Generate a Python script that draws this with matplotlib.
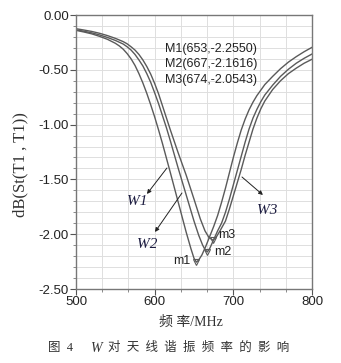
import matplotlib
matplotlib.use("Agg")
import matplotlib.pyplot as plt
from matplotlib.ticker import MultipleLocator, FormatStrFormatter

plt.rcParams['axes.unicode_minus'] = False
plt.rcParams['font.family'] = ['Liberation Sans', 'Noto Sans CJK SC']
plt.rcParams['mathtext.fontset'] = 'custom'
plt.rcParams['mathtext.it'] = 'Liberation Serif:italic'
plt.rcParams['mathtext.rm'] = 'Liberation Serif'

# ---- data ----
f1 = [500, 510, 520, 530, 540, 550, 555, 560, 565, 570, 575, 580, 585, 590, 595, 600, 605, 610,
      620, 630, 640, 646, 650, 653, 656, 660, 665, 670, 675, 680, 685, 690, 695, 700, 705, 710,
      715, 720, 725, 730, 740, 750, 760, 770, 780, 790, 800]
db1 = [-0.14, -0.155, -0.172, -0.195, -0.222, -0.258, -0.282, -0.312, -0.352, -0.40, -0.46,
       -0.535, -0.62, -0.715, -0.82, -0.93, -1.05, -1.175, -1.44, -1.71, -1.98, -2.13, -2.22,
       -2.255, -2.235, -2.19, -2.11, -2.02, -1.93, -1.83, -1.71, -1.58, -1.44, -1.30, -1.17,
       -1.05, -0.95, -0.865, -0.795, -0.735, -0.635, -0.56, -0.49, -0.43, -0.38, -0.335, -0.295]

f2 = [500, 510, 520, 530, 540, 550, 560, 565, 570, 575, 580, 585, 590, 595, 600, 605, 610, 615,
      620, 630, 640, 650, 656, 661, 664, 667, 670, 675, 680, 685, 690, 695, 700, 705, 710, 715,
      720, 725, 730, 735, 740, 750, 760, 770, 780, 790, 800]
db2 = [-0.135, -0.148, -0.163, -0.182, -0.205, -0.232, -0.265, -0.29, -0.32, -0.36, -0.41,
       -0.465, -0.535, -0.615, -0.71, -0.81, -0.92, -1.03, -1.15, -1.40, -1.64, -1.88, -2.01,
       -2.10, -2.14, -2.1616, -2.13, -2.05, -1.97, -1.90, -1.80, -1.68, -1.55, -1.42, -1.29,
       -1.16, -1.04, -0.94, -0.86, -0.79, -0.73, -0.64, -0.56, -0.495, -0.44, -0.395, -0.356]

f3 = [500, 510, 520, 530, 540, 550, 560, 565, 570, 575, 580, 585, 590, 595, 600, 605, 610, 615,
      620, 630, 640, 650, 658, 664, 669, 674, 678, 683, 690, 695, 700, 705, 710, 715, 720, 725,
      730, 735, 740, 750, 760, 770, 780, 790, 800]
db3 = [-0.125, -0.137, -0.15, -0.167, -0.188, -0.213, -0.243, -0.263, -0.29, -0.32, -0.36,
       -0.41, -0.47, -0.54, -0.625, -0.72, -0.83, -0.94, -1.05, -1.26, -1.46, -1.68, -1.86,
       -1.97, -2.03, -2.0543, -2.03, -1.97, -1.88, -1.77, -1.65, -1.53, -1.41, -1.28, -1.16,
       -1.04, -0.94, -0.855, -0.785, -0.68, -0.60, -0.535, -0.485, -0.44, -0.404]

marker_f = [653, 667, 674]
marker_db = [-2.2550, -2.1616, -2.0543]
marker_names = ['m1', 'm2', 'm3']
legend_lines = ['M1(653,-2.2550)', 'M2(667,-2.1616)', 'M3(674,-2.0543)']

x_ticks = [500, 600, 700, 800]
y_ticks = [0.0, -0.5, -1.0, -1.5, -2.0, -2.5]

curve_labels = ['1', '2', '3']
# arrow start (on curve), arrow head, label position (data coords)
arrow_start = [(615.6, -1.396), (634.7, -1.624), (711.0, -1.478)]
arrow_head = [(590.2, -1.633), (600.4, -1.980), (737.6, -1.642)]
label_pos = [(577.5, -1.706), (590.2, -2.090), (742.7, -1.788)]

# ---- figure ----
W, H = 341, 363
fig = plt.figure(figsize=(W / 100, H / 100), dpi=100)
ax = fig.add_axes([76 / W, 1 - 289 / H, 236 / W, 274 / H])

line_c = '#5a5a5a'
for f, d in [(f1, db1), (f2, db2), (f3, db3)]:
    ax.plot(f, d, color=line_c, lw=1.0)

ax.set_xlim(500, 800)
ax.set_ylim(-2.5, 0.0)
ax.set_xticks(x_ticks)
ax.set_yticks(y_ticks)
ax.xaxis.set_minor_locator(MultipleLocator(100 / 3))
ax.yaxis.set_minor_locator(MultipleLocator(0.1))
ax.yaxis.set_major_formatter(FormatStrFormatter('%.2f'))
ax.grid(True, which='both', color='#dedede', lw=0.7)
ax.set_axisbelow(True)
for s in ax.spines.values():
    s.set_color('#777777')
    s.set_linewidth(1.0)
ax.tick_params(which='major', direction='out', length=4, width=0.8, color='#555555',
               labelsize=9.5, labelcolor='#222222', pad=1)
ax.tick_params(which='minor', direction='out', length=2.5, width=0.6, color='#777777')

# markers
ax.plot(marker_f, marker_db, linestyle='none', marker='v', markersize=4.5,
        markerfacecolor='none', markeredgecolor=line_c, markeredgewidth=0.8)
offs = [(-4, 1, 'right'), (5, 0, 'left'), (4, 4, 'left')]
for fx, dy, name, (ox, oy, ha) in zip(marker_f, marker_db, marker_names, offs):
    ax.annotate(name, xy=(fx, dy), xytext=(ox, oy), textcoords='offset points',
                ha=ha, va='center', fontsize=9, color='#222222')

# marker readout
for i, t in enumerate(legend_lines):
    ax.text(0.377, 0.876 - i * 0.056, t, transform=ax.transAxes, fontsize=9,
            color='#222222', ha='left', va='center')

# W labels with arrows
for lab, st, hd, lp in zip(curve_labels, arrow_start, arrow_head, label_pos):
    ax.annotate('', xy=hd, xytext=st,
                arrowprops=dict(arrowstyle='-|>', color='#222222', lw=0.7,
                                mutation_scale=6, shrinkA=0, shrinkB=0))
    ax.text(lp[0], lp[1], 'W' + lab, fontsize=11, color='#1c1c40',
            family='Liberation Serif', style='italic', ha='center', va='center')

# axis labels
fig.text(20 / W, 1 - 164.5 / H, 'dB(St(T1 , T1))', rotation=90, fontsize=12,
         family='Liberation Serif', color='#333333', ha='center', va='center')
fig.text(191 / W, 1 - 322 / H, '频 率/MHz', fontsize=10,
         family=['Liberation Serif', 'Noto Sans CJK SC'], color='#333333',
         ha='center', va='center')

# caption
cap_y = 1 - 348 / H
fig.text(48 / W, cap_y, '图  4', fontsize=9, family=['Liberation Serif', 'Noto Sans CJK SC'],
         color='#333333', ha='left', va='center')
fig.text(90 / W, cap_y, 'W', fontsize=10, family='Liberation Serif', style='italic',
         color='#333333', ha='left', va='center')
fig.text(108 / W, cap_y, '对  天  线  谐  振  频  率  的  影  响', fontsize=9,
         family=['Liberation Serif', 'Noto Sans CJK SC'], color='#333333',
         ha='left', va='center')

fig.savefig('out.png', dpi=100)
